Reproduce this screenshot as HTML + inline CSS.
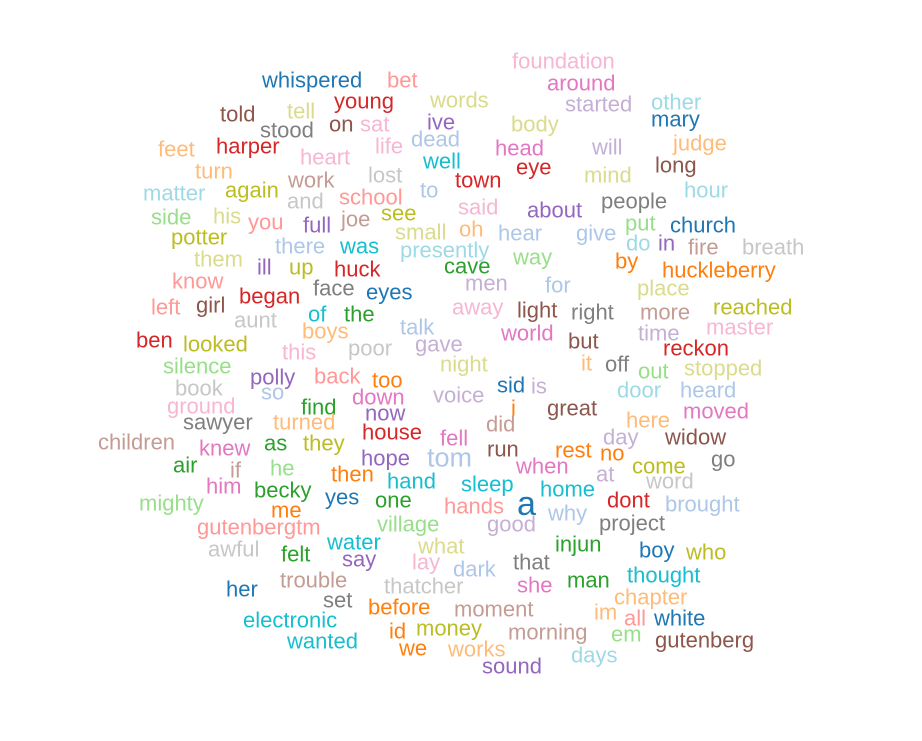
<!DOCTYPE html>
<html>
<head>
<meta charset="utf-8">
<style>
html,body{margin:0;padding:0;background:#fff;}
svg{display:block;}
text{font-family:"Liberation Sans",sans-serif;}
</style>
</head>
<body>
<svg width="922" height="741" viewBox="0 0 922 741">
<g id="words"></g>
</svg>
<script>
const words = ["foundation","whispered","bet","around","young","words","started","other","told","tell","ive","body","mary","stood","on","sat","feet","harper","dead","life","will","judge","heart","well","head","eye","long","turn","lost","work","town","mind","matter","again","school","to","hour","and","people","side","his","you","full","joe","see","said","about","put","church","small","oh","hear","give","potter","there","was","presently","do","in","fire","breath","them","ill","up","huck","cave","way","by","huckleberry","know","men","for","place","face","eyes","left","girl","began","aunt","light","right","away","reached","more","of","the","boys","talk","world","time","master","ben","looked","this","poor","gave","but","reckon","silence","night","it","off","out","stopped","polly","back","too","book","so","voice","sid","is","door","heard","ground","find","down","now","i","great","moved","sawyer","turned","did","here","children","knew","as","they","house","fell","day","widow","tom","run","rest","no","hope","go","air","if","he","then","when","at","come","him","becky","hand","sleep","home","word","mighty","yes","one","a","dont","brought","me","hands","why","gutenbergtm","village","good","project","awful","felt","water","what","injun","boy","who","say","lay","that","dark","her","trouble","thatcher","she","man","thought","chapter","set","before","moment","im","all","white","electronic","id","money","morning","em","gutenberg","wanted","we","works","days","sound"];
const colors = ["#f7b6d2","#1f77b4","#ff9896","#e377c2","#d62728","#dbdb8d","#c5b0d5","#9edae5","#8c564b","#dbdb8d","#9467bd","#dbdb8d","#1f77b4","#7f7f7f","#8c564b","#f7b6d2","#ffbb78","#d62728","#aec7e8","#f7b6d2","#c5b0d5","#ffbb78","#f7b6d2","#17becf","#e377c2","#d62728","#8c564b","#ffbb78","#c7c7c7","#c49c94","#d62728","#dbdb8d","#9edae5","#bcbd22","#ff9896","#aec7e8","#9edae5","#c7c7c7","#7f7f7f","#98df8a","#dbdb8d","#ff9896","#9467bd","#c49c94","#bcbd22","#f7b6d2","#9467bd","#98df8a","#1f77b4","#dbdb8d","#ffbb78","#aec7e8","#aec7e8","#bcbd22","#aec7e8","#17becf","#9edae5","#9edae5","#9467bd","#c49c94","#c7c7c7","#dbdb8d","#9467bd","#bcbd22","#d62728","#2ca02c","#98df8a","#ff7f0e","#ff7f0e","#ff9896","#c5b0d5","#aec7e8","#dbdb8d","#7f7f7f","#1f77b4","#ff9896","#8c564b","#d62728","#c7c7c7","#8c564b","#7f7f7f","#f7b6d2","#bcbd22","#c49c94","#17becf","#2ca02c","#ffbb78","#aec7e8","#e377c2","#c5b0d5","#f7b6d2","#d62728","#bcbd22","#f7b6d2","#c7c7c7","#c5b0d5","#8c564b","#d62728","#98df8a","#dbdb8d","#ffbb78","#7f7f7f","#98df8a","#dbdb8d","#9467bd","#ff9896","#ff7f0e","#c7c7c7","#aec7e8","#c5b0d5","#1f77b4","#c5b0d5","#9edae5","#aec7e8","#f7b6d2","#2ca02c","#e377c2","#9467bd","#ff7f0e","#8c564b","#e377c2","#7f7f7f","#ffbb78","#c49c94","#ffbb78","#c49c94","#e377c2","#2ca02c","#bcbd22","#d62728","#e377c2","#c5b0d5","#8c564b","#aec7e8","#8c564b","#ff7f0e","#ff7f0e","#9467bd","#7f7f7f","#2ca02c","#c49c94","#98df8a","#ff7f0e","#e377c2","#c5b0d5","#bcbd22","#e377c2","#2ca02c","#17becf","#17becf","#17becf","#c7c7c7","#98df8a","#1f77b4","#2ca02c","#1f77b4","#d62728","#aec7e8","#ff7f0e","#ff9896","#aec7e8","#ff9896","#98df8a","#c5b0d5","#7f7f7f","#c7c7c7","#2ca02c","#17becf","#dbdb8d","#2ca02c","#1f77b4","#bcbd22","#9467bd","#f7b6d2","#7f7f7f","#aec7e8","#1f77b4","#c49c94","#c7c7c7","#e377c2","#2ca02c","#17becf","#ffbb78","#7f7f7f","#ff7f0e","#c49c94","#ffbb78","#ff9896","#1f77b4","#17becf","#ff7f0e","#bcbd22","#c49c94","#98df8a","#8c564b","#17becf","#ff7f0e","#ffbb78","#9edae5","#9467bd"];
const xs = [512,262,387,547,334,430,565,651,220,287,427,511,651,260,329,360,158,216,411,375,592,673,300,423,495,516,655,195,368,288,455,584,143,225,339,420,684,287,601,151,213,248,303,341,381,458,527,625,670,395,459,498,576,171,275,340,400,626,658,688,742,194,257,289,334,444,513,615,662,172,465,545,637,313,366,151,196,239,234,517,571,452,713,640,308,344,302,400,501,638,706,136,183,282,348,415,568,663,163,440,581,605,638,684,250,314,372,175,261,433,497,531,617,680,167,301,352,365,511,547,683,183,273,486,626,98,199,264,303,362,440,603,665,427,487,555,600,361,711,173,230,270,331,516,596,632,206,254,387,461,540,646,139,325,375,517,607,665,271,444,548,197,377,487,599,208,281,327,418,555,639,686,342,412,513,453,226,280,384,517,567,627,614,323,368,454,594,624,654,243,389,416,508,611,655,287,399,448,571,482];
const ys = [61,80,80,83,101,100,104,102,114,111,122,124,119,130,124,124,149,146,139,146,147,143,157,161,148,167,165,171,175,180,180,175,193,190,197,190,190,201,201,217,216,222,225,219,213,207,210,223,225,232,229,233,233,237,246,246,250,243,243,247,247,259,267,267,269,266,257,261,270,281,283,285,288,288,292,307,305,296,320,310,312,307,307,312,314,314,331,327,333,333,327,340,344,352,348,344,341,348,366,364,363,364,371,368,377,376,380,388,392,395,385,386,390,390,406,407,397,413,408,408,411,422,422,424,420,442,448,443,443,432,438,437,437,457,449,450,453,458,459,465,470,468,474,466,474,466,486,490,481,484,489,481,503,497,500,503,500,504,510,506,513,527,524,524,523,549,554,542,546,544,550,552,559,562,562,569,589,580,586,585,580,575,597,600,607,609,612,618,618,620,631,628,632,634,640,641,648,649,655,666];
const sizes = {"tom":27,"a":34};
const g = document.getElementById('words');
const NS = "http://www.w3.org/2000/svg";
for (let i = 0; i < words.length; i++) {
  const t = document.createElementNS(NS, 'text');
  const fs = sizes[words[i]] || 22;
  t.setAttribute('x', xs[i]);
  t.setAttribute('y', ys[i] + fs * 0.35);
  t.setAttribute('fill', colors[i]);
  t.style.fontSize = fs + 'px';
  t.textContent = words[i];
  
  
  g.appendChild(t);
}
</script>
</body>
</html>
